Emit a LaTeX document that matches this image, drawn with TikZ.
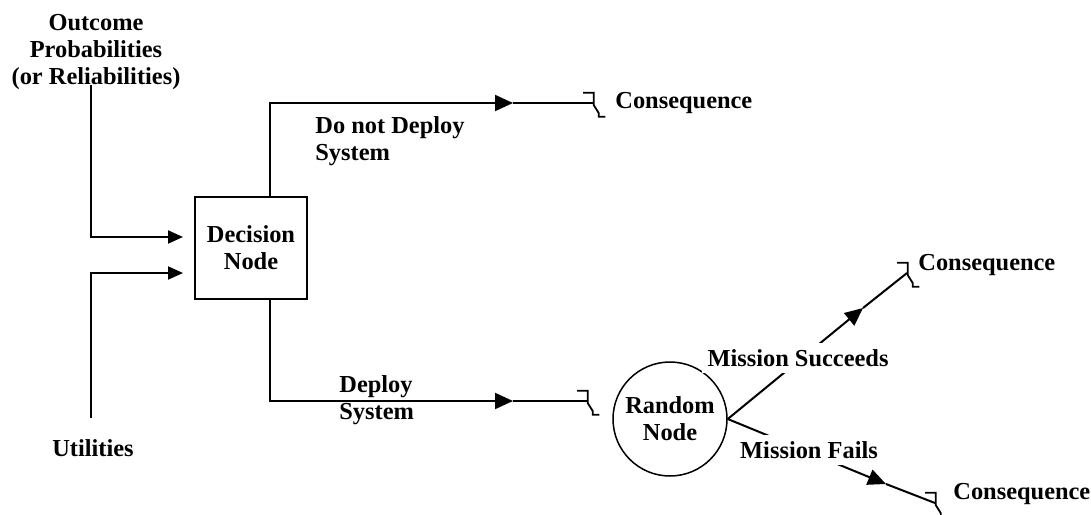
\documentclass[tikz,border=0pt]{standalone}
\usepackage{fontspec}
\setmainfont{Liberation Serif}
\usetikzlibrary{arrows.meta}
\begin{document}
\begin{tikzpicture}[x=0.5pt,y=-0.5pt,
  lbl/.style={font=\bfseries\fontsize{12.2}{13.5}\selectfont, inner sep=0pt},
  ln/.style={line width=1pt},
  tipA/.style={-{Triangle[length=7.5pt,width=6.5pt]}},
  tipB/.style={-{Triangle[length=9pt,width=8pt]}},
  brk/.pic={\draw[line width=0.9pt] (-10,-10.3) -- (0.7,-10.3) -- (0.7,2) -- (5.7,10) -- (5.7,13.7) -- (12.3,13.7);}
]
\useasboundingbox (0,0) rectangle (1091,514);

% nodes
\node[draw, ln, minimum width=56pt, minimum height=51pt, lbl, align=center] (dec) at (251,248) {Decision\\Node};
\node[draw, line width=0.75pt, circle, minimum size=57pt, lbl, align=center] (rnd) at (670,419) {Random\\Node};
\node[lbl, align=center, anchor=north] (outc) at (96,14) {Outcome\\Probabilities\\(or Reliabilities)};
\node[lbl] (util) at (93,448) {Utilities};
\node[lbl, anchor=west] (c1) at (615,103) {Consequence};
\node[lbl, anchor=west] (c2) at (918,265) {Consequence};
\node[lbl, anchor=west] (c3) at (953,494) {Consequence};
\node[lbl, align=left, anchor=north west] (ldnd) at (315,116) {Do not Deploy\\System};
\node[lbl, align=left, anchor=north west] (ld) at (339,375) {Deploy\\System};

% coordinates
\coordinate (o0) at (91,85);
\coordinate (u0) at (91,418);
\coordinate (t1tip) at (513,103); \coordinate (t1end) at (593,103);
\coordinate (b1tip) at (513,401); \coordinate (b1end) at (587,401);
\coordinate (s1tip) at (863,308); \coordinate (s1end) at (907,273);
\coordinate (f1tip) at (886,484); \coordinate (f1end) at (935,503);

% connectors
\draw[ln,tipA,shorten >=5.5pt] (o0) |- ([yshift=5.5pt]dec.west);
\draw[ln,tipA,shorten >=5.5pt] (u0) |- ([yshift=-12.5pt]dec.west);
\draw[ln,tipB] ([xshift=9.5pt]dec.north) |- (t1tip);
\draw[ln] (t1tip) -- (t1end);
\pic at (t1end) {brk};
\draw[ln,tipB] ([xshift=9.5pt]dec.south) |- (b1tip);
\draw[ln] (b1tip) -- (b1end);
\pic at (b1end) {brk};
\draw[ln,tipB] (rnd.east) -- (s1tip);
\draw[ln] (s1tip) -- (s1end);
\pic at (s1end) {brk};
\draw[ln,tipB] (rnd.east) -- (f1tip);
\draw[ln] (f1tip) -- (f1end);
\pic at (f1end) {brk};

% branch labels on top of lines
\node[lbl, fill=white, inner sep=3pt] (ms) at (798,358) {Mission Succeeds};
\node[lbl, fill=white, inner sep=3pt] (mf) at (809,450) {Mission Fails};
\end{tikzpicture}
\end{document}
